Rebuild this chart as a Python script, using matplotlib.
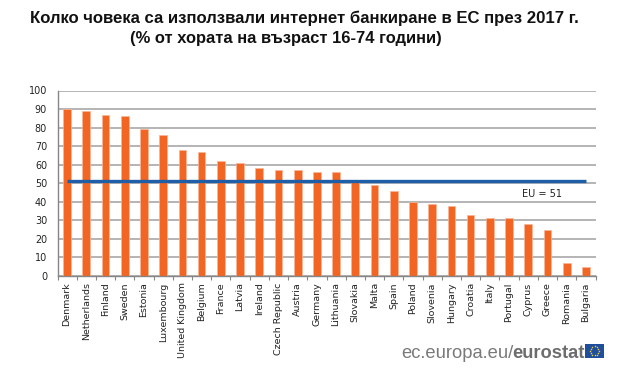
import numpy as np
import matplotlib
matplotlib.use('Agg')
import matplotlib.pyplot as plt

countries = ['Denmark', 'Netherlands', 'Finland', 'Sweden', 'Estonia', 'Luxembourg', 'United Kingdom',
             'Belgium', 'France', 'Latvia', 'Ireland', 'Czech Republic', 'Austria', 'Germany', 'Lithuania',
             'Slovakia', 'Malta', 'Spain', 'Poland', 'Slovenia', 'Hungary', 'Croatia', 'Italy', 'Portugal',
             'Cyprus', 'Greece', 'Romania', 'Bulgaria']
values = [90, 89, 87, 86, 79, 76, 68, 67, 62, 61, 58, 57, 57, 56, 56, 51, 49, 46, 40, 39, 38, 33, 31, 31,
          28, 25, 7, 5]
eu_avg = [51] * len(countries)
yticks = list(range(0, 101, 10))

W, H = 630, 389
fig = plt.figure(figsize=(W / 100, H / 100), dpi=100)

# Plot area in pixels of the reference
left, right, top, bottom = 57.5, 595.5, 90.5, 276
ax = fig.add_axes([left / W, 1 - bottom / H, (right - left) / W, (bottom - top) / H])

x = np.arange(len(countries))
ax.bar(x, values, width=0.4, color='#f26522', edgecolor='#f9b79a', linewidth=0.5, zorder=2)
ax.plot(x, eu_avg, color='#1f5fa8', linewidth=2.4, solid_capstyle='butt', zorder=3)

ax.set_xlim(-0.5, len(countries) - 0.5)
ax.set_ylim(0, 100)
ax.set_yticks(yticks)
ax.set_xticks(np.arange(len(countries) + 1) - 0.5, minor=True)
ax.set_xticks(x)
ax.set_xticklabels(countries, rotation=90, fontsize=6.8, color='#222222', family='DejaVu Sans')
ax.tick_params(axis='x', which='major', length=0, pad=4.5)
ax.tick_params(axis='x', which='minor', length=3, color='#868686', width=0.8)
ax.tick_params(axis='y', length=0, labelsize=6.9, labelcolor='#222222', pad=7.5)

ax.grid(axis='y', color='#a0a0a0', linewidth=1.1, zorder=1)
ax.set_axisbelow(True)
for side in ['top', 'right']:
    ax.spines[side].set_visible(False)
for side in ['left', 'bottom']:
    ax.spines[side].set_color('#868686')
    ax.spines[side].set_linewidth(1.0)

ax.text(23.65, 44, 'EU = 51', fontsize=7.0, color='#222222', va='center', ha='left')

# Title
fig.text(304 / W, 1 - 18 / H, 'Колко човека са използвали интернет банкиране в ЕС през 2017 г.',
         family='Liberation Sans', fontweight='bold', fontsize=12.1, ha='center', va='center', color='#111111')
fig.text(285.5 / W, 1 - 39 / H, '(% от хората на възраст 16-74 години)',
         family='Liberation Sans', fontweight='bold', fontsize=11.9, ha='center', va='center', color='#111111')

# Eurostat logo
fig.text(513 / W, 1 - 353.5 / H, 'ec.europa.eu/', family='Liberation Sans', fontsize=13.2,
         color='#7a7a7a', ha='right', va='center')
fig.text(512 / W, 1 - 353.5 / H, 'eurostat', family='Liberation Sans', fontweight='bold', fontsize=13.2,
         color='#6d6d6d', ha='left', va='center')

flag = fig.add_axes([585 / W, 1 - 358 / H, 19 / W, 14.5 / H])
flag.set_facecolor('#1f4e9c')
flag.set_xticks([])
flag.set_yticks([])
for spine in flag.spines.values():
    spine.set_visible(False)
angles = np.arange(12) * np.pi / 6
flag.scatter(np.cos(angles) * 0.62, np.sin(angles) * 0.62, s=1.2, color='#f2d22e', linewidths=0)
flag.set_xlim(-1.3, 1.3)
flag.set_ylim(-1, 1)

fig.savefig('out.png', dpi=100, facecolor='white')
